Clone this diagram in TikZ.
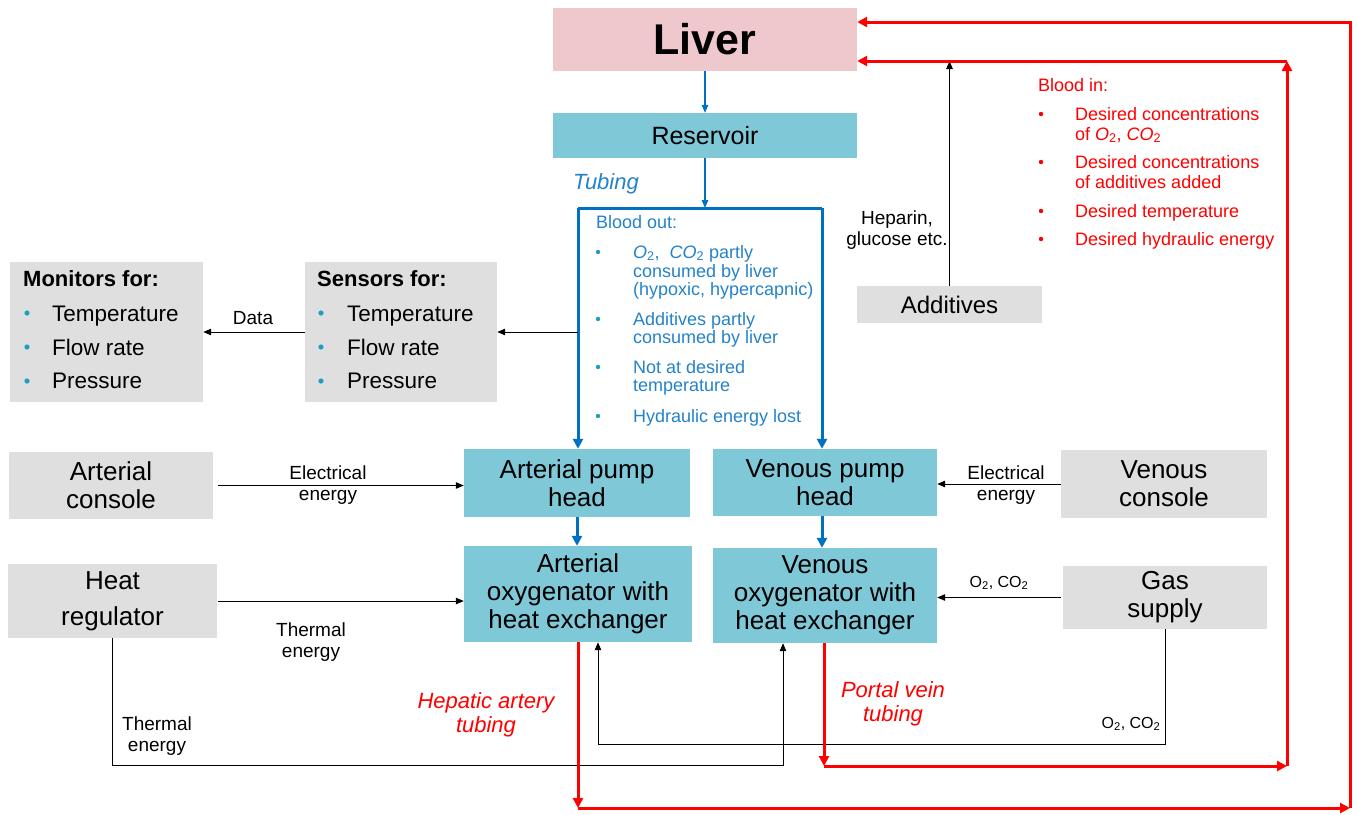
\documentclass[tikz,border=0pt]{standalone}
\usepackage{fontspec}
\setmainfont{Liberation Sans}
\usetikzlibrary{arrows.meta}
\definecolor{tealbox}{HTML}{7EC8D8}
\definecolor{graybox}{HTML}{DFDFDF}
\definecolor{pinkbox}{HTML}{EFC8CD}
\definecolor{bline}{HTML}{0070C0}
\definecolor{btext}{HTML}{2382C9}
\definecolor{rline}{HTML}{FF0000}
\definecolor{bulletc}{HTML}{1E9FBE}
\newcommand{\fs}[2]{\fontsize{#1}{#2}\selectfont}
\begin{document}
\begin{tikzpicture}[x=1pt,y=-1pt,
  box/.style={inner sep=0pt, align=center, text=black},
  tealb/.style={box, fill=tealbox, font=\fs{26}{28}},
  greyb/.style={box, fill=graybox, font=\fs{26}{28}},
  lbl/.style={inner sep=0pt, align=center, font=\fs{19}{21}},
  sml/.style={inner sep=0pt, font=\fs{16}{18}},
  bo/.style={inner sep=0pt, anchor=base west, text=btext, font=\fs{18}{20}},
  bi/.style={inner sep=0pt, anchor=base west, text=rline, font=\fs{18}{20}},
  li/.style={inner sep=0pt, anchor=base west, font=\fs{22.5}{24}},
  thinb/.style={draw=black, line width=1pt, -{Triangle[length=8pt,width=6.5pt]}},
  thinbl/.style={draw=bline, line width=1.2pt, -{Triangle[length=8pt,width=6.5pt]}},
  thickbl/.style={draw=bline, line width=3pt},
  redl/.style={draw=rline, line width=3pt},
  tip/.style={-{Triangle[length=10pt,width=10pt]}},
]
\useasboundingbox (0,0) rectangle (1357,814);

% boxes
\node[box, fill=pinkbox, minimum width=304pt, minimum height=63pt, font=\bfseries\fs{43}{46}] (liver) at (705,39.5) {Liver};
\node[tealb, minimum width=304pt, minimum height=45pt, font=\fs{25}{28}] (res) at (705,135.5) {Reservoir};
\node[tealb, minimum width=226pt, minimum height=68pt] (apump) at (577,483) {Arterial pump\\head};
\node[tealb, minimum width=224pt, minimum height=67pt] (vpump) at (825,482.5) {Venous pump\\head};
\node[tealb, minimum width=228pt, minimum height=96pt] (aoxy) at (578,594) {Arterial\\oxygenator with\\heat exchanger};
\node[tealb, minimum width=224pt, minimum height=95pt] (voxy) at (825,595.5) {Venous\\oxygenator with\\heat exchanger};
\node[greyb, minimum width=204pt, minimum height=67pt] (acon) at (111,485.5) {Arterial\\console};
\node[greyb, minimum width=209pt, minimum height=74pt] (hreg) at (112.5,601) {Heat\\[8pt]regulator};
\node[greyb, minimum width=206pt, minimum height=68pt] (vcon) at (1164,484) {Venous\\console};
\node[greyb, minimum width=204pt, minimum height=63pt] (gas) at (1165,597.5) {Gas\\supply};
\node[greyb, minimum width=185pt, minimum height=37pt, font=\fs{24}{26}] (add) at (949.5,304.5) {Additives};
\node[box, fill=graybox, minimum width=192pt, minimum height=140pt] (sens) at (401,332) {};
\node[box, fill=graybox, minimum width=193pt, minimum height=140pt] (mon) at (106.5,332) {};

% monitors / sensors text
\node[li, font=\bfseries\fs{22}{24}] (m0) at (23,286) {Monitors for:};
\node[li] (m1) at (52,321) {Temperature};
\node[li] (m2) at (52,355) {Flow rate};
\node[li] (m3) at (52,388) {Pressure};
\node[li, font=\bfseries\fs{22}{24}] (s0) at (317,286) {Sensors for:};
\node[li] (s1) at (347,321) {Temperature};
\node[li] (s2) at (347,355) {Flow rate};
\node[li] (s3) at (347,388) {Pressure};
\foreach \y in {313,347,381} {
  \fill[bulletc] (27,\y) circle (2.6pt);
  \fill[bulletc] (321,\y) circle (2.6pt);
}

% blood out text
\node[bo] (bo0) at (596,228) {Blood out:};
\node[bo] (bo1) at (633,258) {\textit{O}\textsubscript{2}, \ \textit{CO}\textsubscript{2} partly};
\node[bo] (bo2) at (633,277) {consumed by liver};
\node[bo] (bo3) at (633,295) {(hypoxic, hypercapnic)};
\node[bo] (bo4) at (633,325) {Additives partly};
\node[bo] (bo5) at (633,343) {consumed by liver};
\node[bo] (bo6) at (633,373) {Not at desired};
\node[bo] (bo7) at (633,391) {temperature};
\node[bo] (bo8) at (633,422) {Hydraulic energy lost};
\foreach \y in {252,319,367,416} { \fill[bulletc] (598,\y) circle (2.2pt); }

% blood in text
\node[bi] (bi0) at (1038,91) {Blood in:};
\node[bi] (bi1) at (1075,120) {Desired concentrations};
\node[bi] (bi2) at (1075,140) {of \textit{O}\textsubscript{2}, \textit{CO}\textsubscript{2}};
\node[bi] (bi3) at (1075,168) {Desired concentrations};
\node[bi] (bi4) at (1075,188) {of additives added};
\node[bi] (bi5) at (1075,217) {Desired temperature};
\node[bi] (bi6) at (1075,245) {Desired hydraulic energy};
\foreach \y in {114,162,211,239} { \fill[rline] (1041,\y) circle (2.2pt); }

% labels
\node[inner sep=0pt, text=btext, font=\itshape\fs{22}{24}] (tub) at (606,184) {Tubing};
\node[lbl] (ldata) at (253,318) {Data};
\node[lbl] (lel1) at (328,485) {Electrical\\energy};
\node[lbl] (lel2) at (1006,485) {Electrical\\energy};
\node[lbl] (lth1) at (311,642) {Thermal\\energy};
\node[lbl] (lth2) at (157,736) {Thermal\\energy};
\node[lbl] (lhep) at (897,230) {Heparin,\\glucose etc.};
\node[sml] (lg1) at (999,583) {O\textsubscript{2}, CO\textsubscript{2}};
\node[sml] (lg2) at (1131,724) {O\textsubscript{2}, CO\textsubscript{2}};
\node[inner sep=0pt, align=center, text=rline, font=\itshape\fs{22}{24}] (lha) at (486,715) {Hepatic artery\\tubing};
\node[inner sep=0pt, align=center, text=rline, font=\itshape\fs{22}{24}] (lpv) at (893,704) {Portal vein\\tubing};

% coordinates
\coordinate (tubtop) at (705,208);
\coordinate (bL) at (578,208);
\coordinate (bR) at (822,208);
\coordinate (tap) at (578,332);
\coordinate (hb) at (783,765);
\coordinate (gb) at (598,744);
\coordinate (ra1) at (578,808);
\coordinate (ra2) at (1350,808);
\coordinate (ra3) at (1350,22);
\coordinate (rv1) at (824,766);
\coordinate (rv2) at (1287,766);
\coordinate (rv3) at (1287,61);

% blue flow
\draw[thinbl] (liver.south) -- (res.north);
\draw[thinbl] (res.south) -- (tubtop);
\draw[thickbl] (bL) -- (bR);
\draw[thickbl, tip] (bL) -- (bL |- apump.north);
\draw[thickbl, tip] (bR) -- (bR |- vpump.north);
\draw[thickbl, tip] (apump.south) -- (apump.south |- aoxy.north);
\draw[thickbl, tip] (vpump.south -| bR) -- (bR |- voxy.north);

% black connectors
\draw[thinb] (tap) -- (tap -| sens.east);
\draw[thinb] (sens.west) -- (mon.east);
\draw[thinb, shorten <=5pt] (acon.east) -- (acon.east -| apump.west);
\draw[thinb, shorten <=1pt] (hreg.east) -- (hreg.east -| aoxy.west);
\draw[thinb] (vcon.west) -- (vcon.west -| vpump.east);
\draw[thinb, shorten <=2pt] (gas.west) -- (gas.west -| voxy.east);
\draw[thinb] (add.north) -- (add.north |- rv3);
\draw[thinb] (hreg.south) |- (hb) -- (hb |- voxy.south);
\draw[thinb] (gas.south) |- (gb) -- (gb |- aoxy.south);

% red flow
\draw[redl, tip] (aoxy.south -| ra1) -- (ra1);
\draw[redl, tip] (ra1) -- (ra2);
\draw[redl, tip] (ra2) -- (ra3) -- (ra3 -| liver.east);
\draw[redl, tip] (voxy.south -| rv1) -- (rv1);
\draw[redl, tip] (rv1) -- (rv2);
\draw[redl, tip] (rv2) -- (rv3);
\draw[redl, tip] (rv3) -- (rv3 -| liver.east);
\end{tikzpicture}
\end{document}
